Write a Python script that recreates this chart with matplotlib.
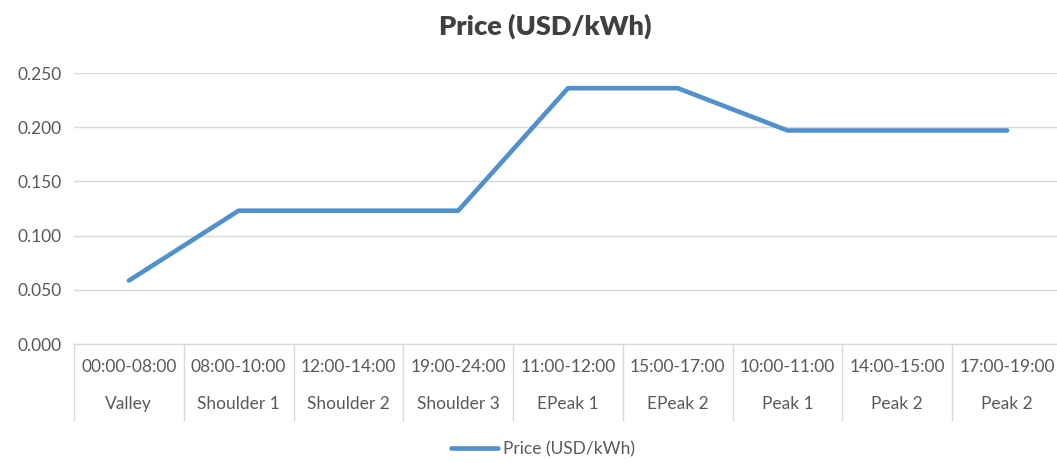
import matplotlib

matplotlib.use("Agg")
import matplotlib.pyplot as plt
from matplotlib.ticker import FormatStrFormatter

# data
periods = ["00:00-08:00", "08:00-10:00", "12:00-14:00", "19:00-24:00", "11:00-12:00",
           "15:00-17:00", "10:00-11:00", "14:00-15:00", "17:00-19:00"]
groups = ["Valley", "Shoulder 1", "Shoulder 2", "Shoulder 3", "EPeak 1",
          "EPeak 2", "Peak 1", "Peak 2", "Peak 2"]
price = [0.0585, 0.123, 0.123, 0.123, 0.236, 0.236, 0.197, 0.197, 0.197]
y_ticks = [0.0, 0.05, 0.10, 0.15, 0.20, 0.25]

TXT = "#595959"
GRID = "#D9D9D9"
BLUE = "#5090CB"
FS = 12.5

plt.rcParams["font.family"] = ["Lato", "DejaVu Sans"]

fig = plt.figure(figsize=(10.57, 4.63), dpi=100)
ax = fig.add_axes([0.0700, 0.2570, 0.9347, 0.5853])

x = list(range(len(periods)))
line, = ax.plot(x, price, color=BLUE, lw=3.3, solid_capstyle="round",
                solid_joinstyle="round", label="Price (USD/kWh)")

ax.set_xlim(-0.5, len(periods) - 0.5)
ax.set_ylim(0, 0.25)
ax.set_yticks(y_ticks)
ax.yaxis.set_major_formatter(FormatStrFormatter("%.3f"))
ax.grid(axis="y", color=GRID, lw=1.0)
ax.set_axisbelow(True)

for s in ["top", "right", "left"]:
    ax.spines[s].set_visible(False)
ax.spines["bottom"].set_color(GRID)
ax.spines["bottom"].set_linewidth(1.0)

ax.tick_params(axis="y", length=0, pad=9, labelsize=FS, labelcolor=TXT)
ax.set_xticks(x)
ax.set_xticklabels([])
ax.tick_params(axis="x", which="major", length=0)
ax.set_xticks([i - 0.5 for i in range(len(periods) + 1)], minor=True)
ax.tick_params(axis="x", which="minor", length=55.4, width=1.0, color=GRID, direction="out")

# two-level category labels
for i, (p, g) in enumerate(zip(periods, groups)):
    ax.annotate(p, xy=(i, 0), xycoords=("data", "axes fraction"), xytext=(0, -16.9),
                textcoords="offset points", ha="center", va="center", fontsize=FS, color=TXT)
    ax.annotate(g, xy=(i, 0), xycoords=("data", "axes fraction"), xytext=(0, -43.2),
                textcoords="offset points", ha="center", va="center", fontsize=FS, color=TXT)

fig.text(545 / 1057, 1 - 26 / 463, "Price (USD/kWh)", ha="center", va="center",
         fontsize=19.5, fontweight="heavy", color="#404040")

fig.legend(handles=[line], loc="center", bbox_to_anchor=(543 / 1057, 1 - 449 / 463),
           frameon=False, fontsize=FS, labelcolor=TXT, handlelength=2.7, handletextpad=0.3)

fig.savefig("out.png", dpi=100)
